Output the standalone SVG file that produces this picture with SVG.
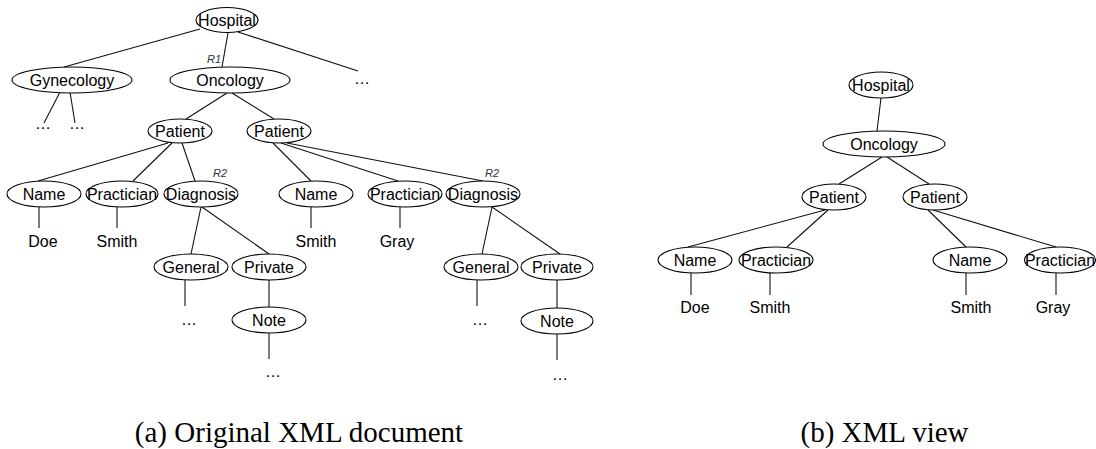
<svg xmlns="http://www.w3.org/2000/svg" width="1096" height="449" viewBox="0 0 1096 449">
  <style>
    .n ellipse { fill: #fff; stroke: #000; stroke-width: 1.1; }
    .n text, .v { font-family: "Liberation Sans", Arial, sans-serif; font-size: 16px; fill: #000; text-anchor: middle; }
    .edges line { stroke: #111; stroke-width: 1.1; }
    .r { font-family: "Liberation Sans", Arial, sans-serif; font-size: 11px; font-style: italic; fill: #333; text-anchor: middle; }
    .cap { font-family: "Liberation Serif", "Times New Roman", serif; font-size: 29px; fill: #000; text-anchor: middle; }
  </style>

  <!-- tree (a): connectors -->
  <g id="edges-a" class="edges">
    <line x1="200" y1="29" x2="64" y2="67"/>
    <line x1="228" y1="33" x2="222" y2="67"/>
    <line x1="238" y1="32" x2="358" y2="71"/>
    <line x1="60" y1="92" x2="44" y2="123"/>
    <line x1="70" y1="92" x2="75" y2="123"/>
    <line x1="227" y1="93" x2="186" y2="119"/>
    <line x1="232" y1="93" x2="274" y2="119"/>
    <line x1="168" y1="143" x2="38" y2="181"/>
    <line x1="172" y1="143" x2="133" y2="181"/>
    <line x1="182" y1="143" x2="195" y2="181"/>
    <line x1="273" y1="143" x2="311" y2="181"/>
    <line x1="281" y1="143" x2="398" y2="181"/>
    <line x1="287" y1="143" x2="483" y2="181"/>
    <line x1="39" y1="207" x2="39" y2="228"/>
    <line x1="117" y1="207" x2="117" y2="228"/>
    <line x1="311" y1="207" x2="311" y2="228"/>
    <line x1="400" y1="207" x2="400" y2="228"/>
    <line x1="201" y1="207" x2="191" y2="254"/>
    <line x1="202" y1="207" x2="269" y2="254"/>
    <line x1="185" y1="280" x2="185" y2="306"/>
    <line x1="269" y1="280" x2="269" y2="307"/>
    <line x1="269" y1="333" x2="269" y2="359"/>
    <line x1="492" y1="207" x2="482" y2="254"/>
    <line x1="492" y1="207" x2="560" y2="254"/>
    <line x1="477" y1="280" x2="477" y2="306"/>
    <line x1="557" y1="280" x2="557" y2="308"/>
    <line x1="557" y1="334" x2="557" y2="360"/>
  </g>

  <!-- tree (a): nodes -->
  <g id="a-hospital" class="n"><ellipse cx="227" cy="20" rx="31" ry="12.5"/><text x="227" y="26">Hospital</text></g>
  <g id="a-gynecology" class="n"><ellipse cx="72" cy="80" rx="60" ry="13"/><text x="72" y="86">Gynecology</text></g>
  <g id="a-oncology" class="n"><ellipse cx="230" cy="80" rx="60" ry="13"/><text x="230" y="86">Oncology</text></g>
  <g id="a-patient1" class="n"><ellipse cx="180" cy="131" rx="32" ry="12"/><text x="180" y="137">Patient</text></g>
  <g id="a-patient2" class="n"><ellipse cx="279" cy="131" rx="32" ry="12"/><text x="279" y="137">Patient</text></g>
  <g id="a-name1" class="n"><ellipse cx="44" cy="194" rx="37" ry="13"/><text x="44" y="200">Name</text></g>
  <g id="a-practician1" class="n"><ellipse cx="122" cy="194" rx="36" ry="13"/><text x="122" y="200">Practician</text></g>
  <g id="a-diagnosis1" class="n"><ellipse cx="201" cy="194" rx="37" ry="13"/><text x="201" y="200">Diagnosis</text></g>
  <g id="a-name2" class="n"><ellipse cx="316" cy="194" rx="37" ry="13"/><text x="316" y="200">Name</text></g>
  <g id="a-practician2" class="n"><ellipse cx="405" cy="194" rx="37" ry="13"/><text x="405" y="200">Practician</text></g>
  <g id="a-diagnosis2" class="n"><ellipse cx="483" cy="194" rx="37" ry="13"/><text x="483" y="200">Diagnosis</text></g>
  <g id="a-general1" class="n"><ellipse cx="191" cy="267" rx="37" ry="13"/><text x="191" y="273">General</text></g>
  <g id="a-private1" class="n"><ellipse cx="269" cy="267" rx="37" ry="13"/><text x="269" y="273">Private</text></g>
  <g id="a-note1" class="n"><ellipse cx="269" cy="320" rx="37" ry="13"/><text x="269" y="326">Note</text></g>
  <g id="a-general2" class="n"><ellipse cx="481" cy="267" rx="37" ry="13"/><text x="481" y="273">General</text></g>
  <g id="a-private2" class="n"><ellipse cx="557" cy="267" rx="36" ry="13"/><text x="557" y="273">Private</text></g>
  <g id="a-note2" class="n"><ellipse cx="557" cy="321" rx="36" ry="13"/><text x="557" y="327">Note</text></g>

  <!-- tree (a): leaf values, elisions and relation labels -->
  <g id="a-leaves">
    <text class="v" x="362" y="84">…</text>
    <text class="v" x="43" y="129">…</text>
    <text class="v" x="77" y="129">…</text>
    <text class="v" x="43" y="247">Doe</text>
    <text class="v" x="117" y="247">Smith</text>
    <text class="v" x="316" y="247">Smith</text>
    <text class="v" x="397" y="247">Gray</text>
    <text class="v" x="189" y="325">…</text>
    <text class="v" x="273" y="377">…</text>
    <text class="v" x="480" y="325">…</text>
    <text class="v" x="560" y="380">…</text>
    <text class="r" x="214" y="63">R1</text>
    <text class="r" x="220" y="177">R2</text>
    <text class="r" x="492" y="177">R2</text>
  </g>

  <!-- view (b): connectors -->
  <g id="edges-b" class="edges">
    <line x1="881" y1="98" x2="877" y2="131"/>
    <line x1="882" y1="157" x2="839" y2="184"/>
    <line x1="887" y1="157" x2="929" y2="184"/>
    <line x1="825" y1="210" x2="688" y2="247"/>
    <line x1="828" y1="210" x2="787" y2="247"/>
    <line x1="928" y1="210" x2="966" y2="247"/>
    <line x1="933" y1="210" x2="1056" y2="247"/>
    <line x1="691" y1="273" x2="691" y2="295"/>
    <line x1="770" y1="273" x2="770" y2="295"/>
    <line x1="966" y1="273" x2="966" y2="295"/>
    <line x1="1056" y1="273" x2="1056" y2="295"/>
  </g>

  <!-- view (b): nodes -->
  <g id="b-hospital" class="n"><ellipse cx="881" cy="85" rx="32" ry="13"/><text x="881" y="91">Hospital</text></g>
  <g id="b-oncology" class="n"><ellipse cx="884" cy="144" rx="61" ry="13"/><text x="884" y="150">Oncology</text></g>
  <g id="b-patient1" class="n"><ellipse cx="834" cy="197" rx="32" ry="13"/><text x="834" y="203">Patient</text></g>
  <g id="b-patient2" class="n"><ellipse cx="935" cy="197" rx="32" ry="13"/><text x="935" y="203">Patient</text></g>
  <g id="b-name1" class="n"><ellipse cx="695" cy="260" rx="37" ry="13"/><text x="695" y="266">Name</text></g>
  <g id="b-practician1" class="n"><ellipse cx="776" cy="260" rx="37" ry="13"/><text x="776" y="266">Practician</text></g>
  <g id="b-name2" class="n"><ellipse cx="970" cy="260" rx="37" ry="13"/><text x="970" y="266">Name</text></g>
  <g id="b-practician2" class="n"><ellipse cx="1060" cy="260" rx="35.5" ry="13"/><text x="1060" y="266">Practician</text></g>

  <g id="b-leaves">
    <text class="v" x="695" y="313">Doe</text>
    <text class="v" x="770" y="313">Smith</text>
    <text class="v" x="971" y="313">Smith</text>
    <text class="v" x="1053" y="313">Gray</text>
  </g>

  <!-- captions -->
  <text class="cap" x="299" y="442">(a) Original XML document</text>
  <text class="cap" x="884.5" y="442">(b) XML view</text>
</svg>
